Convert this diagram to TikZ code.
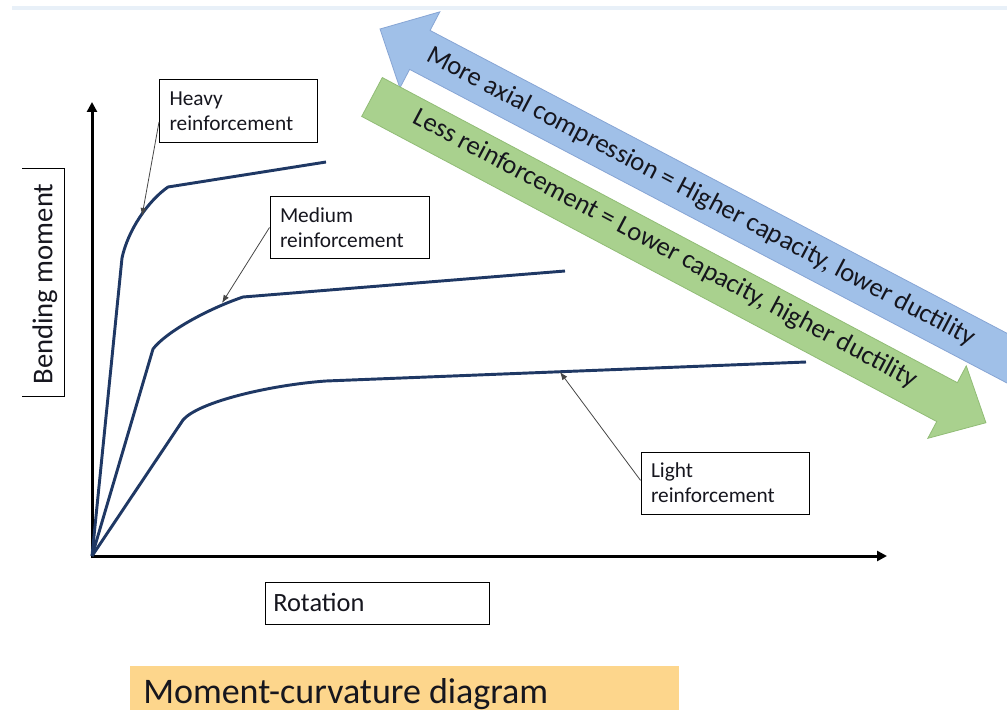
\documentclass[tikz,border=0pt]{standalone}
\usepackage{fontspec}
\setmainfont{Carlito}
\usetikzlibrary{arrows.meta,calc}
\definecolor{curvecol}{RGB}{31,56,100}
\definecolor{bluefill}{RGB}{160,192,232}
\definecolor{blueedge}{RGB}{135,165,212}
\definecolor{greenfill}{RGB}{169,209,142}
\definecolor{greenedge}{RGB}{145,188,118}
\definecolor{titlefill}{RGB}{253,214,140}
\definecolor{toplinecol}{RGB}{232,240,248}
\definecolor{txtcol}{RGB}{22,22,30}
\tikzset{
  axisline/.style={line width=2.25pt, black, -{Triangle[length=7.5pt,width=7.5pt]}},
  mcurve/.style={line width=2.2pt, curvecol, line join=round},
  lblbox/.style={draw=black, line width=0.75pt, align=left, inner xsep=7.5pt, inner ysep=0pt,
    font=\fontsize{16}{19}\selectfont, minimum height=46.5pt, text=txtcol},
  pointer/.style={line width=0.6pt, draw={rgb,255:red,70;green,70;blue,70}, -{Latex[length=6pt,width=4.5pt]}},
  arrowtxt/.style={font=\fontsize{20}{22}\selectfont, text=txtcol, inner sep=0pt},
  bluearrow/.style={fill=bluefill, draw=blueedge, line width=0.6pt, line join=miter},
  greenarrow/.style={fill=greenfill, draw=greenedge, line width=0.6pt, line join=miter}
}
\begin{document}
\begin{tikzpicture}[x=0.75pt,y=-0.75pt]
\useasboundingbox (0,0) rectangle (1007,710);
\clip (0,0) rectangle (1007,710);

% faint top line
\draw[toplinecol, line width=2.5pt] (12,8) -- (1007,8);

% blue arrow (head at upper left)
\begin{scope}[shift={(380,29)}, rotate=-27.7]
  \path[bluearrow] (0,0) -- (45,-43) -- (45,-22) -- (720,-22) -- (720,22) -- (45,22) -- (45,43) -- cycle;
\end{scope}
% green arrow (head at lower right)
\begin{scope}[shift={(372,97)}, rotate=-27.95]
  \path[greenarrow] (0,-22) -- (651,-22) -- (651,-41) -- (695,0) -- (651,41) -- (651,22) -- (0,22) -- cycle;
\end{scope}
\node[arrowtxt, rotate=-27.7] (bluetext) at (701,197) {More axial compression = Higher capacity, lower ductility};
\node[arrowtxt, rotate=-27.95] (greentext) at (665,249) {Less reinforcement = Lower capacity, higher ductility};

% axes
\coordinate (O) at (92,556);
\coordinate (ytip) at (92,102);
\coordinate (xtip) at (887,556);
\draw[axisline] (92,558) -- (ytip);
\draw[axisline] (91,556) -- (xtip);

% curves
\draw[mcurve] (O) -- (122,258) .. controls (128,230) and (148,201) .. (168,187) -- (326,162);
\draw[mcurve] (O) -- (153,349) .. controls (165,333) and (205,310) .. (243,297) -- (565,271);
\draw[mcurve] (O) -- (183,420) .. controls (198,402) and (270,385) .. (326,381) -- (806,362);

% label boxes
\node[lblbox, text width=103.5pt] (heavy) at (238.5,111) {Heavy\\reinforcement};
\node[lblbox, text width=104.25pt] (medium) at (349.5,227.5) {Medium\\reinforcement};
\node[lblbox, text width=111pt] (light) at (725,483) {Light\\reinforcement};

\coordinate (hpt) at (142,216);
\coordinate (mpt) at (222,303);
\coordinate (lpt) at (560,372);
\draw[pointer] ([yshift=-8.25pt]heavy.west) -- (hpt);
\draw[pointer] (medium.west) -- (mpt);
\draw[pointer] ([yshift=2pt]light.west) -- (lpt);

% Rotation label
\node[draw=black, line width=0.75pt, minimum width=168pt, minimum height=31.5pt, inner sep=0pt] (rotbox) at (377,603) {};
\node[anchor=base west, font=\fontsize{19.8}{22}\selectfont, text=txtcol, inner sep=0pt] (rot) at (273,611) {Rotation};

% Bending moment label
\node[rotate=90, font=\fontsize{21.5}{24}\selectfont, text=txtcol, inner sep=0pt] (bm) at (45,284) {Bending moment};
\draw[black, line width=0.75pt] (22,168) -- (64,168) -- (64,396) -- (22,396);

% title
\fill[titlefill] (130,666) rectangle (679,712);
\node[anchor=base west, font=\fontsize{27}{30}\selectfont, text=txtcol, inner sep=0pt] (title) at (143,703) {Moment-curvature diagram};
\end{tikzpicture}
\end{document}
